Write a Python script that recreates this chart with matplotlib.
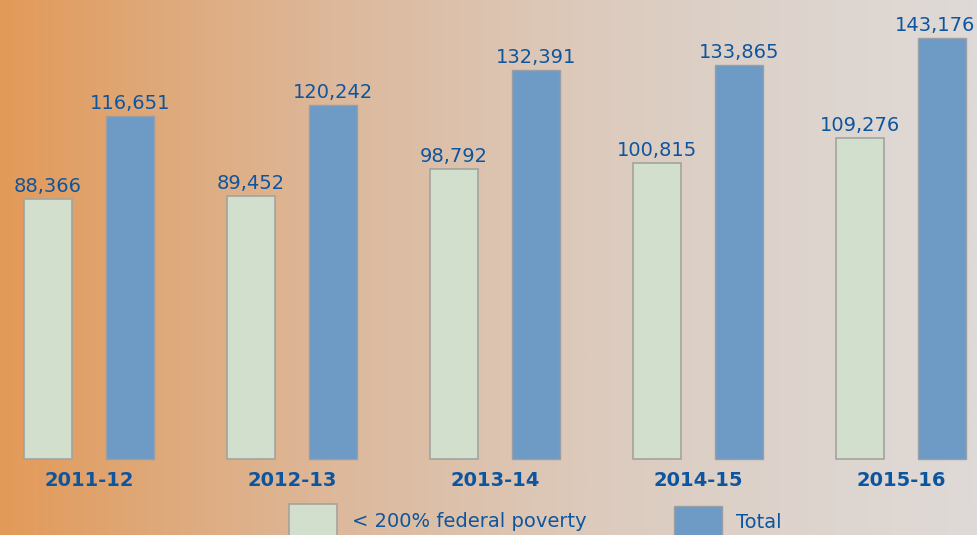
import matplotlib
matplotlib.use("Agg")
import matplotlib.pyplot as plt
import numpy as np
from matplotlib.colors import LinearSegmentedColormap
from matplotlib.patches import Rectangle

categories = ["2011-12", "2012-13", "2013-14", "2014-15", "2015-16"]
poverty = [88366, 89452, 98792, 100815, 109276]
total = [116651, 120242, 132391, 133865, 143176]
legend_labels = ["< 200% federal poverty", "Total"]

W, H = 977, 535
fig = plt.figure(figsize=(W / 100, H / 100), dpi=100)

# background gradient
bg = fig.add_axes([0, 0, 1, 1])
cmap = LinearSegmentedColormap.from_list(
    "bg", [(0.0, "#E39A58"), (0.15, "#DFA878"), (0.35, "#DDB99C"),
           (0.6, "#DCCABC"), (0.8, "#DDD3CC"), (1.0, "#DFDAD7")])
grad = np.linspace(0, 1, 512).reshape(1, -1)
bg.imshow(grad, aspect="auto", cmap=cmap, extent=[0, 1, 0, 1])
bg.set_axis_off()

ax = fig.add_axes([0, 0, 1, 1])
ax.set_facecolor("none")
unit = 203.0
c0 = 89.0
xmax = (W - c0) / unit
ax.set_xlim(-c0 / unit, xmax)
ppu = 340.1
ax.set_ylim(-76 * ppu, (H - 76) * ppu)
ax.set_axis_off()

x = np.arange(len(categories))
off = 41 / unit
bw = 48 / unit
green = "#D3DFCD"
blue = "#6E9BC6"
txt = "#0E559F"
font = "DejaVu Sans"

ax.bar(x - off, poverty, bw, color=green, edgecolor="#A3A3A0", linewidth=1.2)
ax.bar(x + off, total, bw, color=blue, edgecolor="#9A9FA6", linewidth=1.0)

for xi, v in zip(x - off, poverty):
    ax.text(xi, v + 7 * ppu, f"{v:,}", ha="center", va="baseline",
            fontsize=14, color=txt, family=font)
for i, (xi, v) in enumerate(zip(x + off, total)):
    if i == len(total) - 1:
        ax.text(xmax - 2 / unit, v + 7 * ppu, f"{v:,}", ha="right", va="baseline",
                fontsize=14, color=txt, family=font)
    else:
        ax.text(xi, v + 7 * ppu, f"{v:,}", ha="center", va="baseline",
                fontsize=14, color=txt, family=font)
for xi, c in zip(x, categories):
    ax.text(xi, -21 * ppu, c, ha="center", va="center", fontsize=14,
            fontweight="bold", color=txt, family=font)

# legend
lx = fig.add_axes([0, 0, 1, 1])
lx.set_xlim(0, W)
lx.set_ylim(H, 0)
lx.set_axis_off()
lx.set_facecolor("none")
lx.add_patch(Rectangle((289, 504), 48, 40, facecolor=green, edgecolor="#A3A3A0", lw=1.2))
lx.add_patch(Rectangle((674, 506), 48, 40, facecolor=blue, edgecolor="#9A9FA6", lw=1.0))
lx.text(352, 527, legend_labels[0], ha="left", va="baseline", fontsize=14,
        color=txt, family=font)
lx.text(736, 528, legend_labels[1], ha="left", va="baseline", fontsize=14,
        color=txt, family=font)

fig.savefig("out.png", dpi=100)
